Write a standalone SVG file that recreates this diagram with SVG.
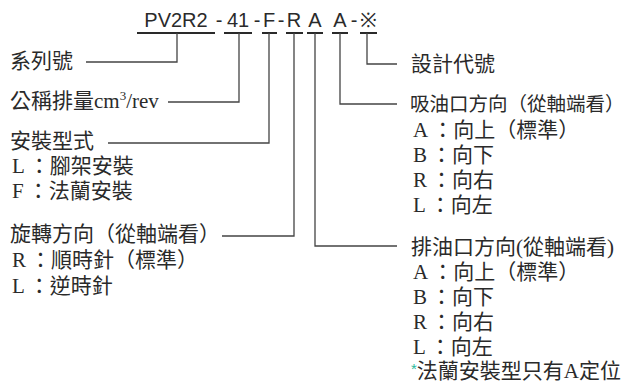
<svg xmlns="http://www.w3.org/2000/svg" width="635" height="383" viewBox="0 0 635 383">
<style>
.t{font-family:"Liberation Serif","Noto Sans CJK TC",serif;font-size:21px;fill:#2a2a2a}
.c{font-family:"Liberation Sans",Arial,sans-serif;font-size:20px;fill:#2a2a2a;text-anchor:middle}
.u{stroke:#2a2a2a;stroke-width:2.2;fill:none}
.l{stroke:#444;stroke-width:1.3;fill:none}
.g{fill:#2bb89c;font-family:"Liberation Sans",sans-serif;font-size:15px}
</style>
<rect width="635" height="383" fill="#fff"/>
<g id="code">
<text class="c" x="176" y="27">PV2R2</text>
<text class="c" x="219" y="27">-</text>
<text class="c" x="238" y="27">41</text>
<text class="c" x="257" y="27">-</text>
<text class="c" x="269" y="27">F</text>
<text class="c" x="281" y="27">-</text>
<text class="c" x="294" y="27">R</text>
<text class="c" x="315" y="27">A</text>
<text class="c" x="340" y="27">A</text>
<text class="c" x="354" y="27">-</text>
<text class="c" x="368" y="27">※</text>
</g>
<g id="connectors">
<path class="u" d="M137 33H215M224 33H252M262 33H277M286 33H303M307 33H323M332 33H348M360 33H377"/>
<path class="l" d="M177 33V62H86"/>
<path class="l" d="M239 33V102H168"/>
<path class="l" d="M269 33V143H108"/>
<path class="l" d="M294 33V236H222"/>
<path class="l" d="M315 33V246H397"/>
<path class="l" d="M340 33V104H397"/>
<path class="l" d="M367 33V64H397"/>
</g>
<g id="series"><text class="t" x="10" y="68">系列號</text></g>
<g id="displacement"><text class="t" x="10" y="108">公稱排量cm<tspan font-size="13" dy="-8">3</tspan><tspan dy="8">/rev</tspan></text></g>
<g id="mount">
<text class="t" x="10" y="148">安裝型式</text>
<text class="t" x="12" y="173">L<tspan dx="4">：腳架安裝</tspan></text>
<text class="t" x="12" y="198">F<tspan dx="4">：法蘭安裝</tspan></text>
</g>
<g id="rotation">
<text class="t" x="10" y="241">旋轉方向（從軸端看）</text>
<text class="t" x="12" y="267">R<tspan dx="4">：順時針（標準）</tspan></text>
<text class="t" x="12" y="293">L<tspan dx="4">：逆時針</tspan></text>
</g>
<g id="design"><text class="t" x="411" y="71">設計代號</text></g>
<g id="suction">
<text class="t" x="410" y="111" style="font-size:19.5px">吸油口方向（從軸端看）</text>
<text class="t" x="413" y="137">A<tspan dx="4">：向上（標準）</tspan></text>
<text class="t" x="413" y="162">B<tspan dx="4">：向下</tspan></text>
<text class="t" x="413" y="187">R<tspan dx="4">：向右</tspan></text>
<text class="t" x="413" y="212">L<tspan dx="4">：向左</tspan></text>
</g>
<g id="discharge">
<text class="t" x="411" y="254">排油口方向(從軸端看)</text>
<text class="t" x="413" y="279">A<tspan dx="4">：向上（標準）</tspan></text>
<text class="t" x="413" y="304">B<tspan dx="4">：向下</tspan></text>
<text class="t" x="413" y="329">R<tspan dx="4">：向右</tspan></text>
<text class="t" x="413" y="354">L<tspan dx="4">：向左</tspan></text>
<text class="t" x="411" y="378"><tspan class="g" dy="-4">*</tspan><tspan dy="4">法蘭安裝型只有A定位</tspan></text>
</g>
</svg>
